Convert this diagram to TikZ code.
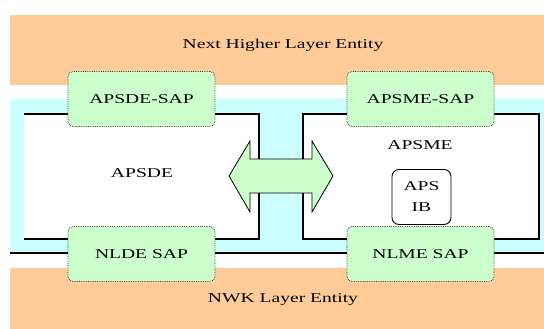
\documentclass[tikz,border=0pt]{standalone}
\usepackage{fontspec}
\setmainfont[FakeStretch=1.45]{Liberation Serif}
\definecolor{peach}{HTML}{FFCC99}
\definecolor{aqua}{HTML}{CCFFFF}
\definecolor{mint}{HTML}{CCFFCC}
\begin{document}
\begin{tikzpicture}[x=1pt,y=-1pt,
  font=\fontsize{13.5}{21}\selectfont,
  sapbox/.style={draw=black!75, densely dotted, line width=0.8pt, rounded corners=5pt,
    fill=mint, minimum width=147pt, minimum height=55pt, inner sep=0pt},
  ibbox/.style={draw=black, line width=0.9pt, rounded corners=7pt, fill=white,
    minimum width=59pt, minimum height=55pt, inner sep=0pt, align=center},
  label/.style={inner sep=0pt},
  wire/.style={line width=1.2pt}]
\useasboundingbox (0,0) rectangle (544,329);
% layer bands
\fill[peach] (10,15) rectangle (544,85);
\fill[peach] (10,268) rectangle (544,329);
\fill[aqua] (10,99) rectangle (544,253);
\draw[wire] (10,253) -- (544,253);
% entity boxes
\fill[white] (24,114) rectangle (259,239);
\draw[wire] (24,114) -- (259,114) -- (259,239) -- (24,239);
\filldraw[fill=white, wire] (303,114) rectangle (539,239);
% labels
\node[label] (nhle) at (283,45) {Next Higher Layer Entity};
\node[label] (nwk) at (283,299) {NWK Layer Entity};
\node[label] (apsde) at (142,173) {APSDE};
\node[label] (apsme) at (420,145) {APSME};
% SAPs
\node[sapbox] (apsdesap) at (141.5,99) {APSDE-SAP};
\node[sapbox] (apsmesap) at (420.5,99) {APSME-SAP};
\node[sapbox] (nldesap) at (141.5,254) {NLDE SAP};
\node[sapbox] (nlmesap) at (420.5,254) {NLME SAP};
% APS IB
\node[ibbox] (apsib) at (421.5,197) {APS\\IB};
% double arrow
\filldraw[fill=mint, draw=black, line width=0.8pt, line join=miter]
  (229,176) -- (250,141) -- (250,159) -- (312,159) -- (312,141) -- (333,176)
  -- (312,212) -- (312,193) -- (250,193) -- (250,212) -- cycle;
\end{tikzpicture}
\end{document}
